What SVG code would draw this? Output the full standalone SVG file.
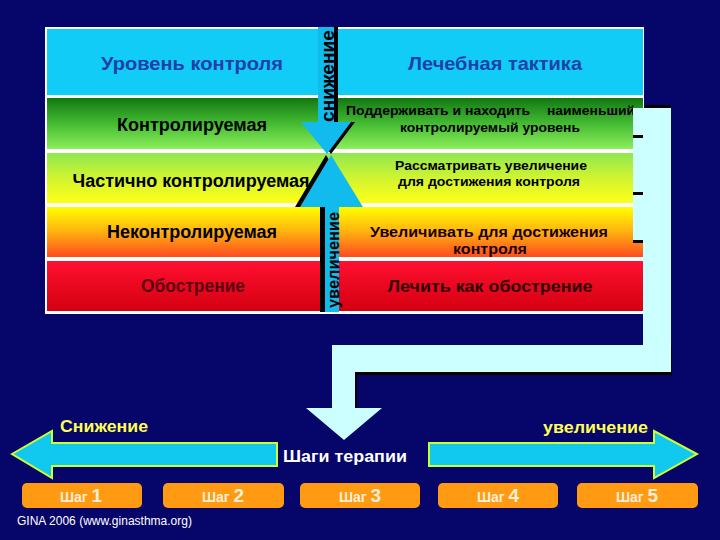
<svg xmlns="http://www.w3.org/2000/svg" width="720" height="540" viewBox="0 0 720 540">
<defs>
<style>
text{font-family:"Liberation Sans",Arial,sans-serif;font-weight:bold}
.hd{font-size:18px;fill:#2040a8;text-anchor:middle}
.lc{font-size:18px;fill:#000;text-anchor:middle}
.rc{font-size:13px;fill:#000;text-anchor:middle}
.step{fill:#ff9a12}
.stx{font-size:14px;fill:#fff0d8;text-anchor:middle}
.num{font-size:19px}
.big{fill:#11c8ee;stroke:#ccff33;stroke-width:2;stroke-linejoin:miter}
.lbl{font-size:17px;fill:#ffff55}
</style>
<linearGradient id="g1" x1="0" y1="0" x2="0" y2="1"><stop offset="0" stop-color="#127812"/><stop offset="0.5" stop-color="#44bb33"/><stop offset="1" stop-color="#8cee5a"/></linearGradient>
<linearGradient id="g2" x1="0" y1="0" x2="0" y2="1"><stop offset="0" stop-color="#90e850"/><stop offset="0.5" stop-color="#d0f430"/><stop offset="1" stop-color="#ffff18"/></linearGradient>
<linearGradient id="g3" x1="0" y1="0" x2="0" y2="1"><stop offset="0" stop-color="#ffff00"/><stop offset="0.5" stop-color="#ffb010"/><stop offset="1" stop-color="#ff4a20"/></linearGradient>
<linearGradient id="g4" x1="0" y1="0" x2="0" y2="1"><stop offset="0" stop-color="#ff1030"/><stop offset="1" stop-color="#d40010"/></linearGradient>
</defs>
<rect width="720" height="540" fill="#05056a"/>

<g id="table">
<rect x="45" y="27" width="599" height="287" fill="#ffffff"/>
<rect x="47" y="29" width="596" height="66" fill="#11ccf6"/>
<rect x="47" y="98" width="596" height="51" fill="url(#g1)"/>
<rect x="47" y="153" width="596" height="50" fill="url(#g2)"/>
<rect x="47" y="207" width="596" height="50" fill="url(#g3)"/>
<rect x="47" y="261" width="596" height="50" fill="url(#g4)"/>
</g>

<g id="left-column">
<text class="hd" x="192" y="70" textLength="182" lengthAdjust="spacingAndGlyphs">Уровень контроля</text>
<text class="lc" x="192" y="131" textLength="150" lengthAdjust="spacingAndGlyphs">Контролируемая</text>
<text class="lc" x="191" y="187" textLength="237" lengthAdjust="spacingAndGlyphs">Частично контролируемая</text>
<text class="lc" x="192" y="238" textLength="170" lengthAdjust="spacingAndGlyphs">Неконтролируемая</text>
<text class="lc" x="193" y="292" fill="#5a0010" style="fill:#5a0010" textLength="104" lengthAdjust="spacingAndGlyphs">Обострение</text>
</g>

<g id="right-column">
<text class="hd" x="495" y="70" textLength="174" lengthAdjust="spacingAndGlyphs">Лечебная тактика</text>
<text class="rc" x="438" y="115" textLength="184" lengthAdjust="spacingAndGlyphs">Поддерживать и находить</text>
<text class="rc" x="591" y="115" textLength="88" lengthAdjust="spacingAndGlyphs">наименьший</text>
<text class="rc" x="490" y="132" textLength="180" lengthAdjust="spacingAndGlyphs">контролируемый уровень</text>
<text class="rc" x="491" y="170" textLength="192" lengthAdjust="spacingAndGlyphs">Рассматривать увеличение</text>
<text class="rc" x="489" y="186" textLength="182" lengthAdjust="spacingAndGlyphs">для достижения контроля</text>
<text class="rc" x="489" y="237" style="font-size:15px;fill:#1a0000" textLength="238" lengthAdjust="spacingAndGlyphs">Увеличивать для достижения</text>
<text class="rc" x="490" y="254" style="font-size:15px;fill:#1a0000" textLength="74" lengthAdjust="spacingAndGlyphs">контроля</text>
<text class="rc" x="490" y="292" style="font-size:17px;fill:#300000" textLength="205" lengthAdjust="spacingAndGlyphs">Лечить как обострение</text>
</g>

<g id="connectors">
<g id="arrow-down-decrease">
<polygon points="322,27 338,27 338,122 355,122 331,154 305,122 322,122" fill="#000"/>
<polygon points="318,27 334,27 334,122 351,122 327,154 301,122 318,122" fill="#11bbee"/>
<text x="334" y="76" transform="rotate(-90 334 76)" style="font-size:18px;fill:#000;text-anchor:middle" textLength="92" lengthAdjust="spacingAndGlyphs">снижение</text>
</g>
<g id="arrow-up-increase">
<polygon points="320,312 334,312 334,207 358,207 326,155 295,207 320,207" fill="#000"/>
<polygon points="325,312 339,312 339,207 363,207 331,155 300,207 325,207" fill="#11bbee"/>
<text x="339" y="260" transform="rotate(-90 339 260)" style="font-size:17px;fill:#000;text-anchor:middle" textLength="96" lengthAdjust="spacingAndGlyphs">увеличение</text>
</g>
<g id="bracket">
<rect x="645" y="105" width="26" height="3" fill="#000"/>
<rect x="357" y="372" width="314" height="3" fill="#000"/>
<rect x="668" y="345" width="4" height="30" fill="#000"/>
<rect x="353" y="372" width="4" height="36" fill="#000"/>
<polygon points="633,108 671,108 671,372 355,372 355,408 382,408 344,440 306,408 332,408 332,345 643,345 643,243 633,243" fill="#ccffff"/>
<rect x="633" y="135" width="10" height="3" fill="#000"/>
<rect x="633" y="192" width="10" height="3" fill="#000"/>
<rect x="633" y="240" width="10" height="3" fill="#000"/>
</g>
<g id="arrow-left">
<polygon class="big" points="12,454 52,431 52,443 277,443 277,466 52,466 52,478"/>
</g>
<g id="arrow-right">
<polygon class="big" points="429,443 654,443 654,431 697,454 654,478 654,466 429,466"/>
</g>
</g>

<g id="labels">
<text class="lbl" x="60" y="432" textLength="88" lengthAdjust="spacingAndGlyphs">Снижение</text>
<text class="lbl" x="543" y="433" textLength="105" lengthAdjust="spacingAndGlyphs">увеличение</text>
<text x="345" y="462" style="font-size:17px;fill:#ffffff;text-anchor:middle" textLength="124" lengthAdjust="spacingAndGlyphs">Шаги терапии</text>
<text x="17" y="525" style="font-size:12px;font-weight:normal;fill:#ffffff" textLength="175" lengthAdjust="spacingAndGlyphs">GINA 2006 (www.ginasthma.org)</text>
</g>

<g id="step1"><rect class="step" x="22" y="483" width="120" height="25" rx="5"/><text class="stx" x="81" y="502">Шаг <tspan class="num">1</tspan></text></g>
<g id="step2"><rect class="step" x="163" y="483" width="121" height="25" rx="5"/><text class="stx" x="223" y="502">Шаг <tspan class="num">2</tspan></text></g>
<g id="step3"><rect class="step" x="300" y="483" width="120" height="25" rx="5"/><text class="stx" x="360" y="502">Шаг <tspan class="num">3</tspan></text></g>
<g id="step4"><rect class="step" x="438" y="483" width="120" height="25" rx="5"/><text class="stx" x="498" y="502">Шаг <tspan class="num">4</tspan></text></g>
<g id="step5"><rect class="step" x="577" y="483" width="121" height="25" rx="5"/><text class="stx" x="637" y="502">Шаг <tspan class="num">5</tspan></text></g>
</svg>
